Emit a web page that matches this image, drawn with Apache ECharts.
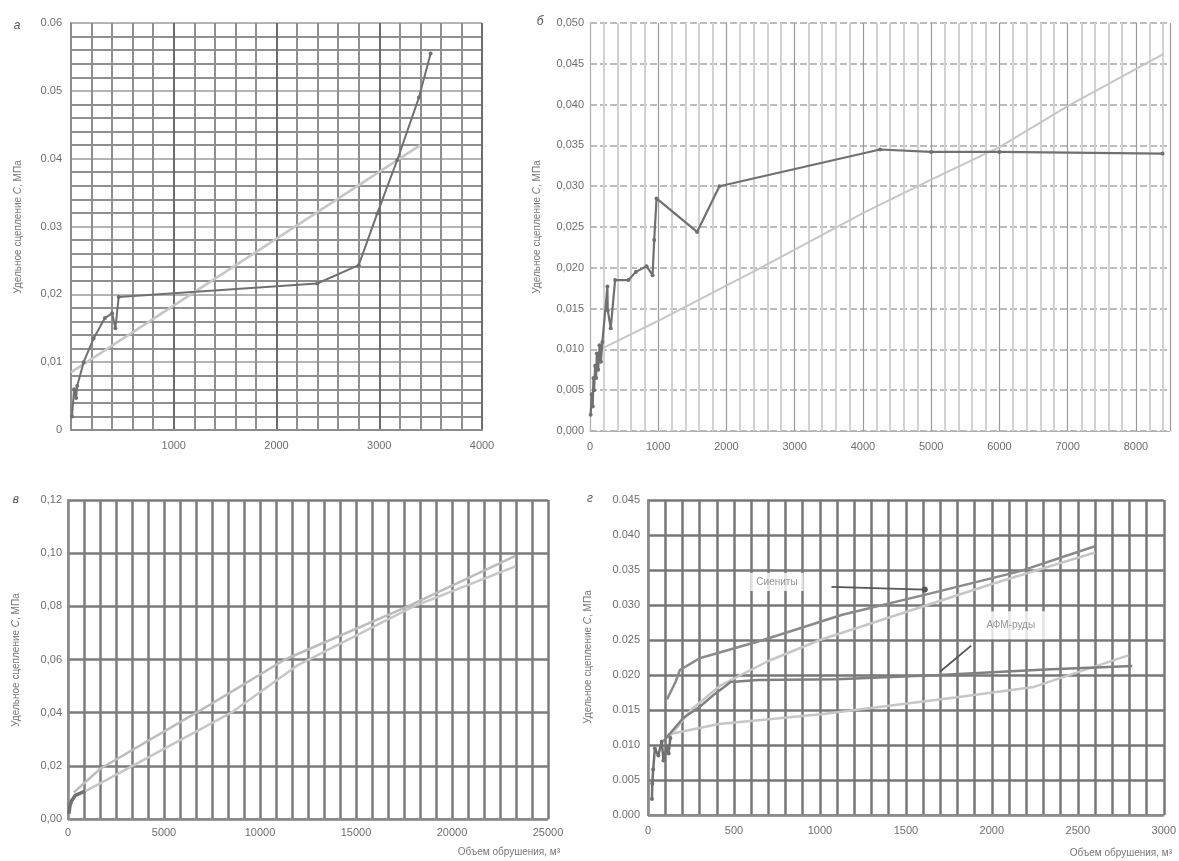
<!DOCTYPE html>
<html><head><meta charset="utf-8">
<script src="https://cdn.jsdelivr.net/npm/echarts@6/dist/echarts.min.js"></script>
<style>html,body{margin:0;padding:0;background:#fff}#c{width:1179px;height:861px}</style>
</head><body><div id="c"></div>
<script>
// ---------- Panel а ----------
const aDataX = [10, 30, 50, 60, 123, 220, 330, 400, 432, 464, 2396, 2800, 2980, 3175, 3386, 3500];
const aDataY = [0.002, 0.006, 0.0047, 0.0065, 0.010, 0.0135, 0.0165, 0.0172, 0.015, 0.0196, 0.0216, 0.0243, 0.0319, 0.0398, 0.049, 0.0555];
const aTrendX = [0, 3400];
const aTrendY = [0.0085, 0.042];
const aXLabels = ['', '1000', '2000', '3000', '4000'];
const aYLabels = ['0', '0,01', '0,02', '0.03', '0.04', '0.05', '0.06'];

// ---------- Panel б ----------
const bDataX = [10, 25, 40, 50, 60, 75, 90, 100, 120, 140, 160, 181, 255, 260, 304, 368, 564, 672, 828, 917, 941, 975, 1569, 1897, 4250, 5000, 6000, 8390];
const bDataY = [0.002, 0.0045, 0.003, 0.0065, 0.005, 0.008, 0.0065, 0.0095, 0.0075, 0.0105, 0.0085, 0.0109, 0.0177, 0.0148, 0.0126, 0.0185, 0.0185, 0.0195, 0.0202, 0.0191, 0.0234, 0.0285, 0.0244, 0.0300, 0.0345, 0.0342, 0.0342, 0.0340];
const bTrendX = [150, 1000, 2500, 4000, 5000, 6000, 7000, 8400];
const bTrendY = [0.0100, 0.0135, 0.0200, 0.0267, 0.0308, 0.0348, 0.0398, 0.0462];
const bXLabels = ['0', '1000', '2000', '3000', '4000', '5000', '6000', '7000', '8000'];
const bYLabels = ['0,000', '0,005', '0,010', '0,015', '0,020', '0,025', '0,030', '0,035', '0,040', '0,045', '0,050'];

// ---------- Panel в ----------
const vDataX = [50, 100, 200, 400, 900];
const vDataY = [0.002, 0.005, 0.007, 0.009, 0.0105];
const vLineAX = [300, 1700, 7400, 11300, 17700, 23300];
const vLineAY = [0.010, 0.019, 0.043, 0.060, 0.080, 0.099];
const vLineBX = [800, 8500, 12000, 18000, 23300];
const vLineBY = [0.010, 0.040, 0.058, 0.080, 0.095];
const vXLabels = ['0', '5000', '10000', '15000', '20000', '25000'];
const vYLabels = ['0,00', '0,02', '0,04', '0,06', '0,08', '0,10', '0,12'];

// ---------- Panel г ----------
const gClusterX = [23, 25, 30, 40, 60, 80, 90, 110, 120, 130];
const gClusterY = [0.0023, 0.0045, 0.0065, 0.0095, 0.0085, 0.0105, 0.0078, 0.0098, 0.0088, 0.011];
const gU1X = [110, 160, 185, 300, 670, 1130, 1650, 2160, 2600];
const gU1Y = [0.0165, 0.019, 0.0207, 0.0224, 0.025, 0.0286, 0.0317, 0.0348, 0.0384];
const gU2X = [120, 250, 420, 700, 1000, 1500, 2000, 2600];
const gU2Y = [0.011, 0.015, 0.0185, 0.022, 0.025, 0.029, 0.033, 0.0375];
const gL1X = [92, 206, 298, 389, 481, 641, 1099, 1695, 2313, 2817];
const gL1Y = [0.0106, 0.0139, 0.0154, 0.0173, 0.019, 0.0193, 0.0194, 0.020, 0.0208, 0.0213];
const gL2X = [115, 412, 1008, 1786, 2244, 2794];
const gL2Y = [0.0115, 0.013, 0.0144, 0.0168, 0.0183, 0.0228];
const gXLabels = ['0', '500', '1000', '1500', '2000', '2500', '3000'];
const gYLabels = ['0.000', '0.005', '0.010', '0.015', '0.020', '0.025', '0.030', '0.035', '0.040', '0.045'];
const gNoteSyenX = [750];
const gNoteSyenY = [0.0333];
const gArrowSyenX = [1067, 1610];
const gArrowSyenY = [0.0326, 0.0322];
const gNoteAfmX = [2110];
const gNoteAfmY = [0.0271];
const gArrowAfmX = [1880, 1700];
const gArrowAfmY = [0.0242, 0.0205];

const zip = (xs, ys) => xs.map((x, i) => [x, ys[i]]);

const FONT = "'Liberation Sans', Arial, sans-serif";
const LBL = { color: '#6e6e6e', fontSize: 11, fontFamily: FONT };
const DARK = '#707070';
const LIGHT = '#c6c6c6';

function line(xi, data, color, width, opts) {
  return Object.assign({
    type: 'line', xAxisIndex: xi, yAxisIndex: xi, data: data,
    showSymbol: false, symbol: 'circle', symbolSize: 4,
    lineStyle: { color: color, width: width },
    itemStyle: { color: color },
    animation: false, silent: true, z: 3
  }, opts || {});
}

const chart = echarts.init(document.getElementById('c'), null, { renderer: 'canvas' });

const option = {
  backgroundColor: '#ffffff',
  animation: false,
  grid: [
    { left: 71, top: 23, width: 411, height: 407 },
    { left: 590, top: 23, width: 580, height: 408 },
    { left: 68, top: 500, width: 480, height: 319 },
    { left: 648, top: 500, width: 517, height: 315 }
  ],
  xAxis: [
    { gridIndex: 0, type: 'value', min: 0, max: 4000, interval: 1000,
      axisLine: { show: true, lineStyle: { color: '#8c8c8c', width: 2 } }, axisTick: { show: false },
      axisLabel: Object.assign({}, LBL, { margin: 10, formatter: (v, i) => aXLabels[i] }),
      splitLine: { show: true, lineStyle: { color: '#6c6c6c', width: 2 } },
      minorTick: { show: false, splitNumber: 5 },
      minorSplitLine: { show: true, lineStyle: { color: '#8f8f8f', width: 2 } } },
    { gridIndex: 1, type: 'value', min: 0, max: 8500, interval: 1000,
      axisLine: { show: true, lineStyle: { color: '#b0b0b0', width: 1 } }, axisTick: { show: false },
      axisLabel: Object.assign({}, LBL, { margin: 10, formatter: (v, i) => bXLabels[i] || '' }),
      splitLine: { show: true, lineStyle: { color: '#9a9a9a', width: 1.2 } },
      minorTick: { show: false, splitNumber: 5 },
      minorSplitLine: { show: true, lineStyle: { color: '#d2d2d2', width: 2 } } },
    { gridIndex: 2, type: 'value', min: 0, max: 25000, interval: 5000,
      axisLine: { show: true, lineStyle: { color: '#8c8c8c', width: 2 } }, axisTick: { show: false },
      axisLabel: Object.assign({}, LBL, { margin: 8, formatter: (v, i) => vXLabels[i] }),
      splitLine: { show: true, lineStyle: { color: '#7c7c7c', width: 2.5 } },
      minorTick: { show: false, splitNumber: 6 },
      minorSplitLine: { show: true, lineStyle: { color: '#7c7c7c', width: 2.5 } } },
    { gridIndex: 3, type: 'value', min: 0, max: 3000, interval: 500,
      axisLine: { show: true, lineStyle: { color: '#8c8c8c', width: 2 } }, axisTick: { show: false },
      axisLabel: Object.assign({}, LBL, { margin: 10, formatter: (v, i) => gXLabels[i] }),
      splitLine: { show: true, lineStyle: { color: '#777777', width: 2.5 } },
      minorTick: { show: false, splitNumber: 5 },
      minorSplitLine: { show: true, lineStyle: { color: '#777777', width: 2.5 } } }
  ],
  yAxis: [
    { gridIndex: 0, type: 'value', min: 0, max: 0.06, interval: 0.01,
      axisLine: { show: true, lineStyle: { color: '#8c8c8c', width: 2 } }, axisTick: { show: false },
      axisLabel: Object.assign({}, LBL, { margin: 9, formatter: (v, i) => aYLabels[i] }),
      splitLine: { show: true, lineStyle: { color: '#b4b4b4', width: 2 } },
      minorTick: { show: false, splitNumber: 5 },
      minorSplitLine: { show: true, lineStyle: { color: '#8f8f8f', width: 2 } } },
    { gridIndex: 1, type: 'value', min: 0, max: 0.05, interval: 0.005,
      axisLine: { show: true, lineStyle: { color: '#b0b0b0', width: 1 } }, axisTick: { show: false },
      axisLabel: Object.assign({}, LBL, { margin: 6, formatter: (v, i) => bYLabels[i] }),
      splitLine: { show: true, lineStyle: { color: '#a8a8a8', width: 1.5, type: [7, 3] } } },
    { gridIndex: 2, type: 'value', min: 0, max: 0.12, interval: 0.02,
      axisLine: { show: true, lineStyle: { color: '#8c8c8c', width: 2 } }, axisTick: { show: false },
      axisLabel: Object.assign({}, LBL, { margin: 6, formatter: (v, i) => vYLabels[i] }),
      splitLine: { show: true, lineStyle: { color: '#7c7c7c', width: 2.5 } } },
    { gridIndex: 3, type: 'value', min: 0, max: 0.045, interval: 0.005,
      axisLine: { show: true, lineStyle: { color: '#8c8c8c', width: 2 } }, axisTick: { show: false },
      axisLabel: Object.assign({}, LBL, { margin: 8, formatter: (v, i) => gYLabels[i] }),
      splitLine: { show: true, lineStyle: { color: '#777777', width: 2.5 } } }
  ],
  series: [
    line(0, zip(aTrendX, aTrendY), LIGHT, 2.5),
    line(0, zip(aDataX, aDataY), DARK, 2, { showSymbol: true, symbolSize: 4 }),

    line(1, zip(bTrendX, bTrendY), LIGHT, 2),
    line(1, zip(bDataX, bDataY), DARK, 2.2, { showSymbol: true, symbolSize: 4 }),

    line(2, zip(vLineBX, vLineBY), LIGHT, 2.5),
    line(2, zip(vLineAX, vLineAY), '#bcbcbc', 2.5),
    line(2, zip(vDataX, vDataY), DARK, 3.5),

    line(3, zip(gU2X, gU2Y), LIGHT, 2.5),
    line(3, zip(gL2X, gL2Y), LIGHT, 2.5),
    line(3, zip(gU1X, gU1Y), '#8a8a8a', 2.5),
    line(3, zip(gL1X, gL1Y), '#808080', 2.5),
    line(3, zip(gClusterX, gClusterY), DARK, 2.5, { showSymbol: true, symbolSize: 4 }),
    line(3, zip(gArrowSyenX, gArrowSyenY), '#555555', 1.8, { showSymbol: true, symbol: 'none', z: 6,
      data: zip(gArrowSyenX, gArrowSyenY).map((p, i) => i === 1 ? { value: p, symbol: 'circle', symbolSize: 6 } : { value: p, symbol: 'none' }) }),
    line(3, zip(gArrowAfmX, gArrowAfmY), '#555555', 1.8, { z: 6 }),
    { type: 'scatter', xAxisIndex: 3, yAxisIndex: 3, data: zip(gNoteSyenX, gNoteSyenY), symbolSize: 0,
      silent: true, z: 7,
      label: { show: true, position: 'inside', formatter: 'Сиениты', color: '#7a7a7a', fontSize: 10,
        fontFamily: FONT, backgroundColor: '#ffffff', padding: [4, 6] } },
    { type: 'scatter', xAxisIndex: 3, yAxisIndex: 3, data: zip(gNoteAfmX, gNoteAfmY), symbolSize: 0,
      silent: true, z: 7,
      label: { show: true, position: 'inside', formatter: 'АФМ-руды', color: '#7a7a7a', fontSize: 10,
        fontFamily: FONT, backgroundColor: '#ffffff', padding: [9, 10] } }
  ],
  graphic: []
};

const yTitle = (x, y) => ({
  type: 'text', x: x, y: y, rotation: Math.PI / 2,
  style: {
    text: '{n|Удельное сцепление }{i|C}{n|, МПа}', align: 'center', verticalAlign: 'middle',
    rich: { n: { fontSize: 10, fill: '#777', fontFamily: FONT }, i: { fontSize: 10, fill: '#777', fontStyle: 'italic', fontFamily: FONT } }
  }, z: 10
});
const letter = (t, x, y) => ({
  type: 'text', x: x, y: y,
  style: { text: t, fontSize: 12, fontStyle: 'italic', fill: '#555', fontFamily: FONT, align: 'center', verticalAlign: 'middle' }, z: 10
});
const xTitle = (x, y) => ({
  type: 'text', x: x, y: y,
  style: { text: 'Объем обрушения, м³', fontSize: 10, fill: '#777', fontFamily: FONT, align: 'right', verticalAlign: 'middle' }, z: 10
});
option.graphic = [
  yTitle(18, 227), yTitle(537, 227), yTitle(16, 660), yTitle(588, 657),
  letter('а', 17, 26), letter('б', 540, 22), letter('в', 16, 500), letter('г', 590, 499),
  xTitle(560, 852), xTitle(1172, 853)
];

chart.setOption(option);
</script>
</body></html>
